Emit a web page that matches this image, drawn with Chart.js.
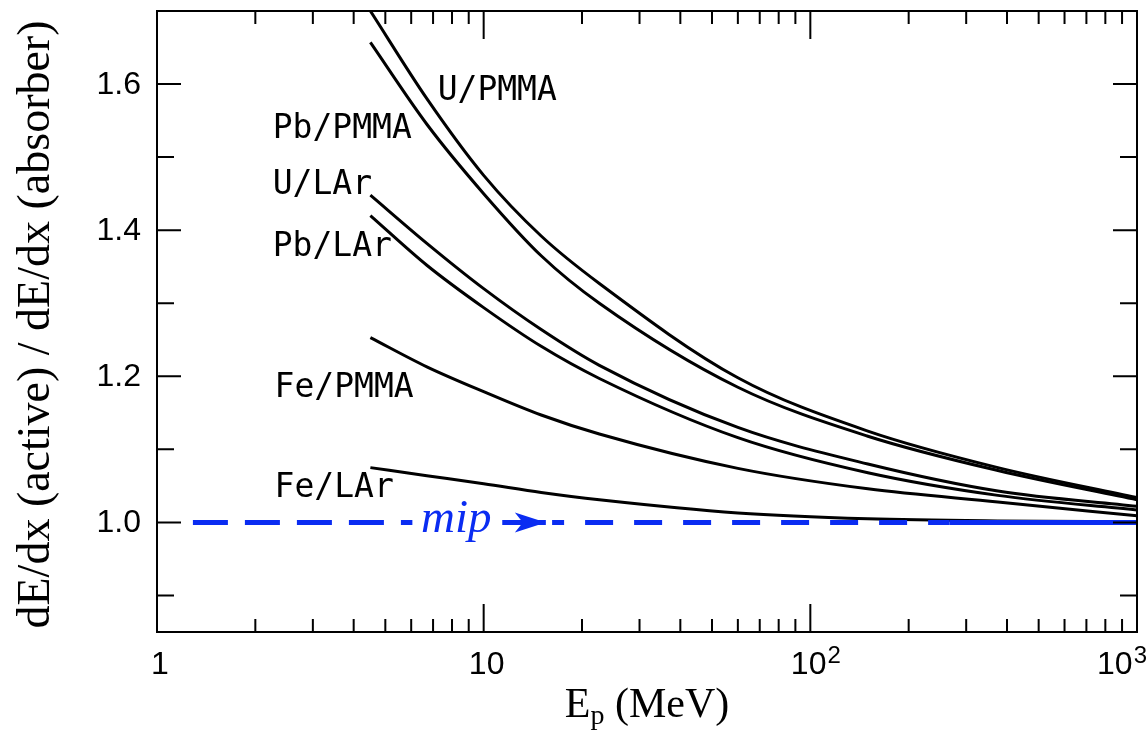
<!DOCTYPE html>
<html>
<head>
<meta charset="utf-8">
<script src="https://cdn.jsdelivr.net/npm/chart.js@4"></script>
<style>
  html, body { margin: 0; padding: 0; background: #fff; }
</style>
</head>
<body>
<canvas id="grafica" width="1148" height="730"></canvas>
<script>
// energias (MeV) y cocientes
const energies = [4.5, 6.7, 10, 15, 22.6, 60, 150, 375, 1000];
const uPmma  = [1.700, 1.580, 1.475, 1.392, 1.327, 1.198, 1.125, 1.075, 1.034];
const pbPmma = [1.657, 1.545, 1.450, 1.365, 1.300, 1.185, 1.118, 1.071, 1.031];
const uLar   = [1.448, 1.382, 1.320, 1.264, 1.215, 1.130, 1.080, 1.043, 1.022];
const pbLar  = [1.420, 1.352, 1.294, 1.241, 1.197, 1.116, 1.068, 1.037, 1.017];
const fePmma = [1.253, 1.213, 1.179, 1.147, 1.121, 1.074, 1.046, 1.028, 1.009];
const feLar  = [1.075, 1.064, 1.053, 1.041, 1.031, 1.013, 1.005, 1.002, 1.001];

// linea mip
const mipLevel = 1.0;
const mipDashA = [1.288, 6.05];
const mipArrow = [11.4, 15.5];
const mipDashB = [16.2, 267];
const mipSolid = [267, 1000];

// ejes
const xMajorTicks = [1, 10, 100, 1000];
const xTickLabels = ['1', '10', '10', '10'];
const xTickSups   = ['', '', '2', '3'];
const xMinorMult  = [2, 3, 4, 5, 6, 7, 8, 9];
const yMajorTicks = [1.0, 1.2, 1.4, 1.6];
const yMinorTicks = [0.9, 1.1, 1.3, 1.5];

// etiquetas de curvas (posicion en coordenadas de datos)
const curveLabels = [
    { text: 'U/PMMA',  x: 7.23, y: 1.578 },
    { text: 'Pb/PMMA', x: 2.26, y: 1.526 },
    { text: 'U/LAr',   x: 2.26, y: 1.450 },
    { text: 'Pb/LAr',  x: 2.26, y: 1.365 },
    { text: 'Fe/PMMA', x: 2.29, y: 1.171 },
    { text: 'Fe/LAr',  x: 2.29, y: 1.035 }
];
const mipLabelX = 8.24;

const BLUE = '#0a2cf2';

function curve(values) {
    return {
        data: energies.map((e, i) => ({ x: e, y: values[i] })),
        borderColor: '#000',
        borderWidth: 3,
        pointRadius: 0,
        cubicInterpolationMode: 'monotone',
        fill: false
    };
}

function mip(xs, dash, offset) {
    return {
        data: xs.map(e => ({ x: e, y: mipLevel })),
        borderColor: BLUE,
        borderWidth: 5,
        borderDash: dash,
        borderDashOffset: offset || 0,
        borderCapStyle: 'butt',
        pointRadius: 0,
        fill: false
    };
}

// marco, marcas, textos
const decoracion = {
    id: 'decoracion',
    afterDatasetsDraw(chart) {
        const { ctx, chartArea: a, scales: { x, y } } = chart;
        ctx.save();

        // flecha mip
        const tx = x.getPixelForValue(mipArrow[1]);
        const ty = y.getPixelForValue(mipLevel);
        ctx.fillStyle = BLUE;
        ctx.beginPath();
        ctx.moveTo(tx, ty);
        ctx.lineTo(tx - 31, ty - 10);
        ctx.lineTo(tx - 23, ty);
        ctx.lineTo(tx - 31, ty + 10);
        ctx.closePath();
        ctx.fill();

        // texto mip
        ctx.font = 'italic 47px "Liberation Serif"';
        ctx.textAlign = 'center';
        ctx.textBaseline = 'alphabetic';
        ctx.fillText('mip', x.getPixelForValue(mipLabelX), ty + 10);

        // marco
        ctx.strokeStyle = '#000';
        ctx.lineWidth = 2;
        ctx.strokeRect(a.left, a.top, a.right - a.left, a.bottom - a.top);

        // marcas eje y (hacia dentro, ambos lados)
        ctx.beginPath();
        yMajorTicks.forEach(v => {
            const py = y.getPixelForValue(v);
            ctx.moveTo(a.left, py); ctx.lineTo(a.left + 24, py);
            ctx.moveTo(a.right, py); ctx.lineTo(a.right - 24, py);
        });
        yMinorTicks.forEach(v => {
            const py = y.getPixelForValue(v);
            ctx.moveTo(a.left, py); ctx.lineTo(a.left + 17, py);
            ctx.moveTo(a.right, py); ctx.lineTo(a.right - 17, py);
        });
        // marcas eje x
        xMajorTicks.forEach((v, i) => {
            const px = x.getPixelForValue(v);
            ctx.moveTo(px, a.bottom); ctx.lineTo(px, a.bottom - 28);
            ctx.moveTo(px, a.top); ctx.lineTo(px, a.top + 28);
            if (i < xMajorTicks.length - 1) {
                xMinorMult.forEach(m => {
                    const pm = x.getPixelForValue(v * m);
                    ctx.moveTo(pm, a.bottom); ctx.lineTo(pm, a.bottom - 13);
                    ctx.moveTo(pm, a.top); ctx.lineTo(pm, a.top + 13);
                });
            }
        });
        ctx.stroke();

        // etiquetas eje y
        ctx.fillStyle = '#000';
        ctx.font = '32px "Liberation Sans"';
        ctx.textAlign = 'right';
        ctx.textBaseline = 'middle';
        yMajorTicks.forEach(v => {
            ctx.fillText(v.toFixed(1), a.left - 16, y.getPixelForValue(v) + 1);
        });

        // etiquetas eje x
        ctx.textBaseline = 'alphabetic';
        ctx.textAlign = 'left';
        xMajorTicks.forEach((v, i) => {
            const px = x.getPixelForValue(v);
            ctx.font = '32px "Liberation Sans"';
            const w1 = ctx.measureText(xTickLabels[i]).width;
            ctx.font = '24px "Liberation Sans"';
            const w2 = xTickSups[i] ? ctx.measureText(xTickSups[i]).width : 0;
            let start = px + (w2 ? 5 : 3) - (w1 + w2) / 2;
            start = Math.min(start, chart.width - 2 - w1 - w2);
            ctx.font = '32px "Liberation Sans"';
            ctx.fillText(xTickLabels[i], start, a.bottom + 42);
            if (w2) {
                ctx.font = '24px "Liberation Sans"';
                ctx.fillText(xTickSups[i], start + w1 + 1, a.bottom + 31);
            }
        });

        // etiquetas de curvas
        ctx.font = '33px "DejaVu Sans Mono"';
        ctx.textAlign = 'left';
        curveLabels.forEach(l => {
            ctx.fillText(l.text, x.getPixelForValue(l.x), y.getPixelForValue(l.y));
        });

        // titulo eje x: E_p (MeV)
        const cx = (a.left + a.right) / 2;
        ctx.font = '42px "Liberation Serif"';
        const wE = ctx.measureText('E').width;
        const wRest = ctx.measureText(' (MeV)').width;
        ctx.font = '28px "Liberation Serif"';
        const wp = ctx.measureText('p').width;
        const sx = cx - (wE + wp + wRest) / 2;
        const by = a.bottom + 85;
        ctx.font = '42px "Liberation Serif"';
        ctx.fillText('E', sx, by);
        ctx.font = '28px "Liberation Serif"';
        ctx.fillText('p', sx + wE, by + 7);
        ctx.font = '42px "Liberation Serif"';
        ctx.fillText(' (MeV)', sx + wE + wp, by);

        // titulo eje y
        ctx.translate(49, (a.top + a.bottom) / 2 + 3);
        ctx.rotate(-Math.PI / 2);
        ctx.font = '46px "Liberation Serif"';
        ctx.textAlign = 'center';
        ctx.fillText('dE/dx (active) / dE/dx (absorber)', 0, 0);

        ctx.restore();
    }
};

new Chart(document.getElementById('grafica').getContext('2d'), {
    type: 'line',
    data: {
        datasets: [
            mip(mipDashA, [35, 17]),
            mip(mipArrow, []),
            mip(mipDashB, [28, 21], 16),
            mip(mipSolid, []),
            curve(uPmma),
            curve(pbPmma),
            curve(uLar),
            curve(pbLar),
            curve(fePmma),
            curve(feLar)
        ]
    },
    options: {
        responsive: false,
        animation: false,
        layout: { padding: { left: 157, right: 11, top: 11, bottom: 98 } },
        plugins: {
            legend: { display: false },
            tooltip: { enabled: false }
        },
        scales: {
            x: { type: 'logarithmic', min: 1, max: 1000, display: false },
            y: { type: 'linear', min: 0.85, max: 1.7, display: false }
        }
    },
    plugins: [decoracion]
});
</script>
</body>
</html>
